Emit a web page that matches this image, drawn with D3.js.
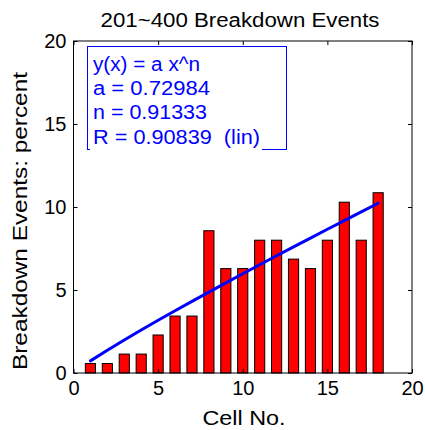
<!DOCTYPE html>
<html>
<head>
<meta charset="utf-8">
<script src="https://cdn.jsdelivr.net/npm/d3@7"></script>
<style>
  html, body { margin: 0; padding: 0; background: #fff; }
  svg { display: block; font-family: "Liberation Sans", Arial, sans-serif; }
  text { white-space: pre; }
</style>
</head>
<body>
<svg id="chart" width="425" height="430"></svg>
<script>
// Breakdown events per cell, in percent of all events 201~400
const cells = [1, 2, 3, 4, 5, 6, 7, 8, 9, 10, 11, 12, 13, 14, 15, 16, 17, 18];
const percents = [0.57, 0.57, 1.14, 1.14, 2.29, 3.43, 3.43, 8.57, 6.29, 6.29,
                  8.0, 8.0, 6.86, 6.29, 8.0, 10.29, 8.0, 10.86];

// Power-law fit y(x) = a x^n, parameters as printed in the legend box
const fitA = 0.72984;
const fitN = 0.91333;
const fitR = 0.90839;
const legendLines = [
  "y(x) = a x^n",
  "a = " + fitA.toFixed(5),
  "n = " + fitN.toFixed(5),
  "R = " + fitR.toFixed(5) + "  (lin)"
];
const legendWidths = [107, 117, 114, 167];

const xTicks = [0, 5, 10, 15, 20];
const yTicks = [0, 5, 10, 15, 20];

const svg = d3.select("#chart");
const plotL = 73.5, plotR = 412, plotT = 41, plotB = 373;

const x = d3.scaleLinear().domain([0, 20]).range([plotL, plotR]);
const y = d3.scaleLinear().domain([0, 20]).range([plotB, plotT]);

const font = 20;
const barW = x(0.6) - x(0);

// bars
svg.append("g")
  .selectAll("rect")
  .data(cells)
  .join("rect")
  .attr("x", (d) => x(d) - barW / 2)
  .attr("y", (d, i) => y(percents[i]))
  .attr("width", barW)
  .attr("height", (d, i) => y(0) - y(percents[i]))
  .attr("fill", "#ff0000")
  .attr("stroke", "#000")
  .attr("stroke-width", 1);

// fitted curve through the cell numbers
const fitLine = d3.line()
  .x((d) => x(d))
  .y((d) => y(fitA * Math.pow(d, fitN)));
svg.append("path")
  .datum(cells)
  .attr("d", fitLine)
  .attr("fill", "none")
  .attr("stroke", "#0000ff")
  .attr("stroke-width", 3)
  .attr("stroke-linecap", "round");

// axes: ticks point inward on all four sides
const tickLen = 4;
const axBottom = d3.axisBottom(x).tickValues(xTicks).tickSize(-tickLen).tickPadding(8);
const axTop = d3.axisTop(x).tickValues(xTicks).tickSize(-tickLen).tickFormat("");
const axLeft = d3.axisLeft(y).tickValues(yTicks).tickSize(-tickLen).tickPadding(7);
const axRight = d3.axisRight(y).tickValues(yTicks).tickSize(-tickLen).tickFormat("");

function styleAxis(g) {
  g.selectAll(".domain").remove();
  g.selectAll("line").attr("stroke", "#000");
  g.selectAll("text").attr("fill", "#000").attr("font-size", font)
    .attr("font-family", "Liberation Sans, Arial, sans-serif");
}

svg.append("g").attr("transform", `translate(0,${plotB})`).call(axBottom).call(styleAxis);
svg.append("g").attr("transform", `translate(0,${plotT})`).call(axTop).call(styleAxis);
svg.append("g").attr("transform", `translate(${plotL},0)`).call(axLeft).call(styleAxis);
svg.append("g").attr("transform", `translate(${plotR},0)`).call(axRight).call(styleAxis);

// plot frame
svg.append("rect")
  .attr("x", plotL).attr("y", plotT)
  .attr("width", plotR - plotL).attr("height", plotB - plotT)
  .attr("fill", "none").attr("stroke", "#000").attr("stroke-width", 1);

// legend box with fit parameters
const lg = svg.append("g");
lg.append("rect")
  .attr("x", 87.5).attr("y", 46.5).attr("width", 199).attr("height", 103)
  .attr("fill", "#fff").attr("stroke", "#0000ff").attr("stroke-width", 1);
lg.append("rect")
  .attr("x", 90).attr("y", 50).attr("width", 172).attr("height", 101)
  .attr("fill", "#fff");
lg.selectAll("text")
  .data(legendLines)
  .join("text")
  .attr("x", 93)
  .attr("y", (d, i) => 70.5 + i * 24.4)
  .attr("fill", "#0000ff")
  .attr("font-size", font)
  .attr("textLength", (d, i) => legendWidths[i])
  .attr("lengthAdjust", "spacingAndGlyphs")
  .text((d) => d);

// title and axis labels
svg.append("text")
  .attr("x", 240).attr("y", 26.5)
  .attr("text-anchor", "middle")
  .attr("font-size", font)
  .attr("textLength", 279)
  .attr("lengthAdjust", "spacingAndGlyphs")
  .text("201~400 Breakdown Events");

svg.append("text")
  .attr("x", 244).attr("y", 425)
  .attr("text-anchor", "middle")
  .attr("font-size", font)
  .attr("textLength", 83)
  .attr("lengthAdjust", "spacingAndGlyphs")
  .text("Cell No.");

svg.append("text")
  .attr("transform", "translate(27,221) rotate(-90)")
  .attr("text-anchor", "middle")
  .attr("font-size", font)
  .attr("textLength", 298)
  .attr("lengthAdjust", "spacingAndGlyphs")
  .text("Breakdown Events: percent");
</script>
</body>
</html>
